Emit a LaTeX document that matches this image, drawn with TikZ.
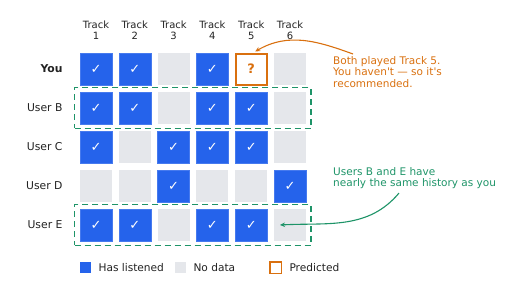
\documentclass[tikz,border=0pt]{standalone}
\usepackage{fontspec}
\setmainfont{DejaVu Sans}
\usetikzlibrary{arrows.meta,positioning,fit,calc}
\definecolor{listc}{HTML}{2563EB}
\definecolor{nodatc}{HTML}{E5E7EB}
\definecolor{predc}{HTML}{D9700F}
\definecolor{simc}{HTML}{1E9468}
\definecolor{textc}{HTML}{222222}
\tikzset{
  >={Stealth[length=5pt,width=4.5pt]},
  cell/.style={minimum size=32pt,inner sep=0pt,fill=nodatc},
  heard/.style={cell,fill=listc,draw=listc!85!white,line width=0.6pt,text=white,font=\fontsize{13}{13}\selectfont},
  pcell/.style={cell,fill=white,draw=predc,line width=2pt,minimum size=31pt,text=predc,font=\bfseries\fontsize{13}{13}\selectfont},
  rowlab/.style={anchor=east,text=textc,font=\fontsize{10.8}{12}\selectfont},
  collab/.style={align=center,text=textc,font=\fontsize{10}{11}\selectfont},
  simbox/.style={draw=simc,dash pattern=on 6pt off 4pt,line width=1.5pt,inner xsep=5pt,inner ysep=4pt},
  lgbox/.style={minimum size=11pt,inner sep=0pt},
  lgtext/.style={anchor=west,text=textc,font=\fontsize{10.6}{12}\selectfont},
  note/.style={anchor=north west,align=left,inner sep=0pt,font=\fontsize{10.5}{11.5}\selectfont},
}

\begin{document}
\begin{tikzpicture}[x=1pt,y=1pt]
  \useasboundingbox (0,0) rectangle (512,-303);
  % column heads
  \foreach \i in {1,...,6}
    \node[collab] (t\i) at ({96+38.8*(\i-1)},-30) {Track\\\i};
  % rows of the matrix: 0 no data, 1 listened, 2 predicted
  \foreach \name/\vals [count=\j] in {{\textbf{You}}/{1,1,0,1,2,0},User B/{1,1,0,1,1,0},User C/{1,0,1,1,1,0},User D/{0,0,1,0,0,1},User E/{1,1,0,1,1,0}}{
    \node[rowlab] (r\j) at (66,{-69-39*(\j-1)}) {\name};
    \foreach \v [count=\i] in \vals {
      \ifcase\v
        \node[cell] (c\j\i) at ({96+38.8*(\i-1)},{-69-39*(\j-1)}) {};
      \or
        \node[heard] (c\j\i) at ({96+38.8*(\i-1)},{-69-39*(\j-1)}) {✓};
      \else
        \node[pcell] (c\j\i) at ({96+38.8*(\i-1)},{-69-39*(\j-1)}) {?};
      \fi
    }
  }
  \node[simbox,fit=(c21)(c26)] (simB) {};
  \node[simbox,fit=(c51)(c56)] (simE) {};
  % notes
  \node[note,text=predc] (notepred) at (333,-56) {Both played Track 5.\\You haven\textquotesingle t — so it\textquotesingle s\\recommended.};
  \node[note,text=simc] (notesim) at (333,-167) {Users B and E have\\nearly the same history as you};
  \draw[->,draw=predc,line width=1.1pt] ([xshift=20pt,yshift=2pt]notepred.north west) to[out=160,in=30] ([xshift=4pt,yshift=1pt]c15.north);
  \draw[->,draw=simc,line width=1.1pt] ([xshift=66pt,yshift=-4pt]notesim.south west) to[out=-130,in=3] ([xshift=-10pt]c56.center);
  % legend
  \node[lgbox,fill=listc] (lg1) at (85.5,-267.5) {};
  \node[lgtext] (lt1) at (95,-267.5) {Has listened};
  \node[lgbox,fill=nodatc] (lg2) at (180.5,-267.5) {};
  \node[lgtext] (lt2) at (190,-267.5) {No data};
  \node[lgbox,draw=predc,line width=1.5pt,minimum size=11.5pt] (lg3) at (275.5,-267.5) {};
  \node[lgtext] (lt3) at (286,-267.5) {Predicted};
\end{tikzpicture}
\end{document}
